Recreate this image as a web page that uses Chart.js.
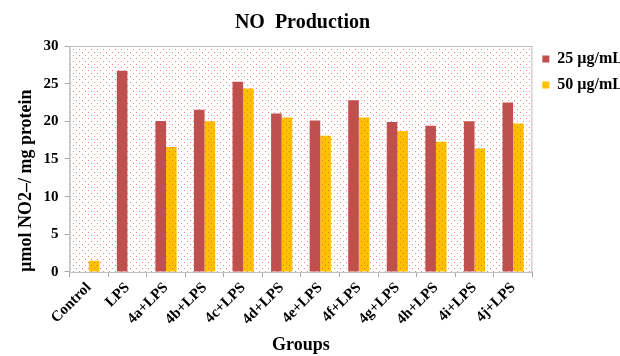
<!DOCTYPE html>
<html>
<head>
<meta charset="utf-8">
<script src="https://cdn.jsdelivr.net/npm/chart.js@4/dist/chart.umd.min.js"></script>
<style>
  body { margin: 0; background: #fff; }
  #wrap { width: 620px; height: 356px; }
</style>
</head>
<body>
<div id="wrap"><canvas id="myChart"></canvas></div>
<script>
var groups = ["Control", "LPS", "4a+LPS", "4b+LPS", "4c+LPS", "4d+LPS", "4e+LPS", "4f+LPS", "4g+LPS", "4h+LPS", "4i+LPS", "4j+LPS"];
var dose25 = [0, 26.7, 20.05, 21.55, 25.25, 21.05, 20.1, 22.8, 19.9, 19.4, 20.0, 22.5];
var dose50 = [1.5, 0, 16.6, 20.0, 24.35, 20.5, 18.1, 20.5, 18.7, 17.3, 16.4, 19.7];
var yTicks = [0, 5, 10, 15, 20, 25, 30];

var serif = "'Liberation Serif', 'Times New Roman', serif";

// dotted fill like the office chart
function dots(bg, dot) {
  var c = document.createElement("canvas");
  c.width = 6; c.height = 6;
  var g = c.getContext("2d");
  if (bg) { g.fillStyle = bg; g.fillRect(0, 0, 6, 6); }
  g.fillStyle = dot;
  g.fillRect(1, 1, 1, 1);
  g.fillRect(4, 4, 1, 1);
  return g.createPattern(c, "repeat");
}
var ctx = document.getElementById("myChart").getContext("2d");
var plotFill = dots("#ffffff", "rgba(240,90,90,0.75)");
var goldFill = dots("#FFC000", "rgba(235,110,40,0.9)");

var plotBg = {
  id: "plotBg",
  afterLayout(chart) {
    // legend sits lower, level with the top of the plot
    chart.legend.top = 41;
    // title is a little left of the middle
    chart.titleBlock.left -= 22;
    chart.titleBlock.right -= 22;
  },
  beforeDatasetsDraw(chart) {
    var a = chart.chartArea, c = chart.ctx;
    c.save();
    c.fillStyle = plotFill;
    c.fillRect(a.left, a.top, a.right - a.left, a.bottom - a.top);
    c.strokeStyle = "#BFBFBF";
    c.lineWidth = 1;
    c.strokeRect(a.left + 0.5, a.top + 0.5, a.right - a.left - 1, a.bottom - a.top);
    c.restore();
  }
};

new Chart(ctx, {
  type: "bar",
  data: {
    labels: groups,
    datasets: [
      { label: "25 µg/mL", data: dose25, backgroundColor: "#C0504D", borderWidth: 0 },
      { label: "50 µg/mL", data: dose50, backgroundColor: goldFill, borderWidth: 0 }
    ]
  },
  options: {
    responsive: true,
    maintainAspectRatio: false,
    animation: false,
    layout: { padding: { left: 16, right: -13, top: 0, bottom: 0 } },
    datasets: { bar: { barPercentage: 1, categoryPercentage: 0.55 } },
    plugins: {
      title: {
        display: true,
        text: "NO  Production",
        color: "#000",
        font: { family: serif, size: 20, weight: "bold" },
        padding: { top: 11, bottom: 11 }
      },
      legend: {
        position: "right",
        align: "start",
        labels: {
          color: "#000",
          boxWidth: 7,
          boxHeight: 7,
          padding: 10,
          font: { family: serif, size: 16, weight: "bold" },
          generateLabels(chart) {
            return chart.data.datasets.map(function (d, i) {
              return {
                text: d.label,
                fillStyle: i === 0 ? "#C0504D" : "#FFC000",
                strokeStyle: "transparent",
                lineWidth: 0,
                datasetIndex: i
              };
            });
          }
        }
      },
      tooltip: { enabled: false }
    },
    scales: {
      x: {
        grid: { display: true, offset: true, drawOnChartArea: false, tickLength: 5, color: "#A6A6A6" },
        border: { color: "#A6A6A6" },
        ticks: {
          color: "#000",
          minRotation: 45,
          maxRotation: 45,
          padding: 2,
          font: { family: serif, size: 15, weight: "bold" }
        },
        title: {
          display: true,
          text: "Groups",
          color: "#000",
          font: { family: serif, size: 18, weight: "bold" },
          padding: { top: 4, bottom: 0 }
        }
      },
      y: {
        min: 0,
        max: 30,
        afterBuildTicks(axis) { axis.ticks = yTicks.map(function (v) { return { value: v }; }); },
        grid: { display: true, drawOnChartArea: false, tickLength: 5, color: "#A6A6A6" },
        border: { color: "#A6A6A6" },
        ticks: {
          color: "#000",
          padding: 6,
          font: { family: serif, size: 15, weight: "bold" }
        },
        title: {
          display: true,
          text: "µmol NO2–/ mg protein",
          align: "start",
          color: "#000",
          font: { family: serif, size: 18, weight: "bold" },
          padding: { top: 0, bottom: 0 }
        }
      }
    }
  },
  plugins: [plotBg]
});
</script>
</body>
</html>
